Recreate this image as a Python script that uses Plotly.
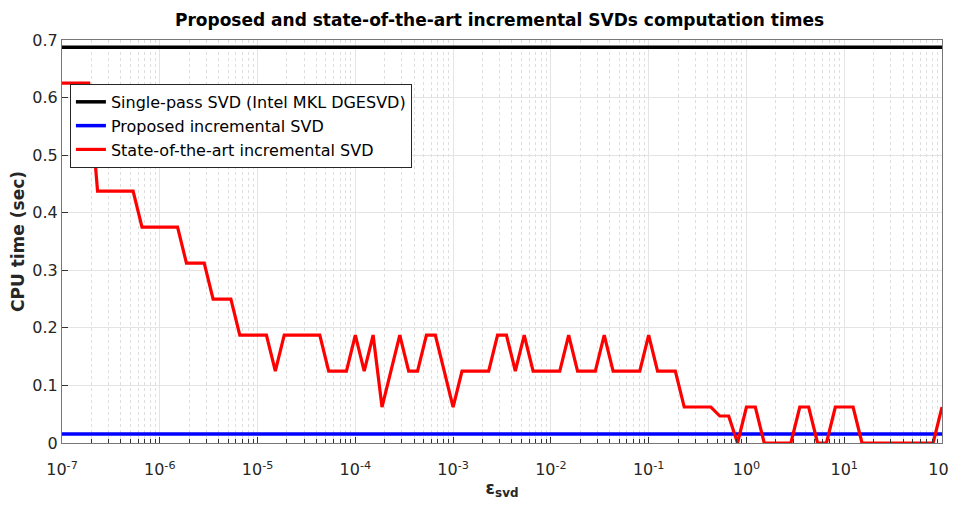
import numpy as np
import plotly.graph_objects as go

# evaluation grid of eps_svd (100 log-spaced samples between 1e-7 and 1e2)
eps_svd = np.logspace(-7, 2, 100)

single_pass_time = 0.6875
proposed_time = 0.015625

state_of_art_time = (
    [0.625] * 4 + [0.4375] * 5 + [0.375] * 5 + [0.3125] * 3 + [0.25] * 3 +
    [0.1875] * 4 + [0.125] + [0.1875] * 5 + [0.125] * 3 + [0.1875] + [0.125] +
    [0.1875] + [0.0625] + [0.125] + [0.1875] + [0.125] * 2 + [0.1875] * 2 +
    [0.125] + [0.0625] + [0.125] * 4 + [0.1875] * 2 + [0.125] + [0.1875] +
    [0.125] * 4 + [0.1875] + [0.125] * 3 + [0.1875] + [0.125] * 4 + [0.1875] +
    [0.125] * 3 + [0.0625] * 4 + [0.046875] * 2 + [0.0] + [0.0625] * 2 +
    [0.0] * 4 + [0.0625] * 2 + [0.0] * 2 + [0.0625] * 3 + [0.0] * 9 + [0.0625]
)

x_tick_exponents = [-7, -6, -5, -4, -3, -2, -1, 0, 1, 2]
y_ticks = [0, 0.1, 0.2, 0.3, 0.4, 0.5, 0.6, 0.7]
y_ticktext = ["0", "0.1", "0.2", "0.3", "0.4", "0.5", "0.6", "0.7"]

x_tickvals = [10.0 ** e for e in x_tick_exponents]
x_ticktext = ["10<sup>%d</sup>" % e for e in x_tick_exponents]
minor_vals = [m * 10.0 ** e for e in x_tick_exponents[:-1] for m in range(2, 10)]

FONT = "DejaVu Sans"
TXT = "#262626"
fig = go.Figure()
fig.add_trace(go.Scatter(x=[eps_svd[0], eps_svd[-1]], y=[single_pass_time] * 2,
                         mode="lines", line=dict(color="black", width=3.5),
                         name="Single-pass SVD (Intel MKL DGESVD)"))
fig.add_trace(go.Scatter(x=[eps_svd[0], eps_svd[-1]], y=[proposed_time] * 2,
                         mode="lines", line=dict(color="#0000ff", width=3.5),
                         name="Proposed incremental SVD"))
fig.add_trace(go.Scatter(x=eps_svd, y=state_of_art_time,
                         mode="lines", line=dict(color="#ff0000", width=3.2),
                         name="State-of-the-art incremental SVD"))

axis_common = dict(showline=True, linecolor="#777777", linewidth=1.2, mirror=True,
                   ticks="inside", ticklen=6, tickcolor="#333333",
                   gridcolor="#e4e4e4", gridwidth=1, zeroline=False, automargin=False,
                   tickfont=dict(family=FONT, size=16, color=TXT))

fig.update_xaxes(type="log", range=[-7, 2], tickvals=x_tickvals, ticktext=x_ticktext,
                 ticklabelstandoff=12,
                 minor=dict(tickvals=minor_vals, showgrid=True, gridcolor="#dedede",
                            griddash="dot", gridwidth=1, ticks="inside", ticklen=4,
                            tickcolor="#333333"),
                 title=dict(text="<b>ε<sub>svd</sub></b>", font=dict(family=FONT, size=17, color=TXT),
                            standoff=3),
                 **axis_common)
fig.update_yaxes(range=[0, 0.7], tickvals=y_ticks, ticktext=y_ticktext,
                 title=dict(text="<b>CPU time (sec)</b>", font=dict(family=FONT, size=17, color=TXT),
                            standoff=8),
                 **axis_common)

# page body has an 8px margin, so the figure is shifted by 8px in the screenshot
fig.update_layout(
    width=949, height=502,
    margin=dict(l=54, r=15, t=32, b=67),
    plot_bgcolor="white", paper_bgcolor="white",
    title=dict(text="<b>Proposed and state-of-the-art incremental SVDs computation times</b>",
               x=0.518, xanchor="center", y=0.976, yanchor="middle",
               font=dict(family=FONT, size=17, color="black")),
    legend=dict(x=0.009, y=0.891, xanchor="left", yanchor="top",
                bgcolor="white", bordercolor="#262626", borderwidth=1,
                font=dict(family=FONT, size=16, color="black"),
                tracegroupgap=0),
    showlegend=True,
)

fig.write_html("out.html")
